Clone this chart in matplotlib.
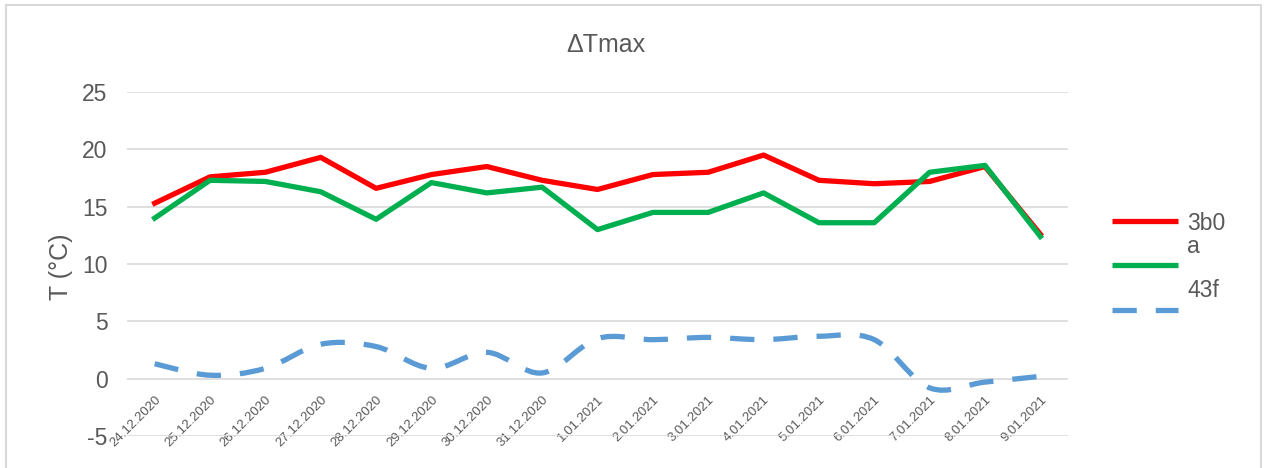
import matplotlib
matplotlib.use("Agg")
import matplotlib.pyplot as plt
from matplotlib.path import Path
from matplotlib.patches import PathPatch, Rectangle
from matplotlib.lines import Line2D

plt.rcParams['font.family'] = ['Liberation Sans', 'DejaVu Sans']

dates = ["24.12.2020", "25.12.2020", "26.12.2020", "27.12.2020", "28.12.2020",
         "29.12.2020", "30.12.2020", "31.12.2020", "1.01.2021", "2.01.2021",
         "3.01.2021", "4.01.2021", "5.01.2021", "6.01.2021", "7.01.2021",
         "8.01.2021", "9.01.2021"]
series_names = ["3b0", "a", "43f"]
s_3b0 = [15.3, 17.6, 18.0, 19.3, 16.6, 17.8, 18.5, 17.3, 16.5, 17.8, 18.0, 19.5,
         17.3, 17.0, 17.2, 18.5, 12.6]
s_a = [14.0, 17.3, 17.2, 16.3, 13.9, 17.1, 16.2, 16.7, 13.0, 14.5, 14.5, 16.2,
       13.6, 13.6, 18.0, 18.6, 12.4]
s_43f = [1.3, 0.3, 0.9, 3.0, 2.8, 0.9, 2.3, 0.5, 3.5, 3.4, 3.6, 3.4, 3.7, 3.4,
         -0.8, -0.3, 0.2]
yticks = [-5, 0, 5, 10, 15, 20, 25]

RED = "#FF0000"
GREEN = "#00B050"
BLUE = "#5B9BD5"
TXT = "#595959"
GRID = "#D9D9D9"

W, H = 1264, 468
fig = plt.figure(figsize=(W / 100, H / 100), dpi=100)
ax = fig.add_axes([127 / W, (H - 436) / H, (1068 - 127) / W, (436 - 92) / H])

x = list(range(len(dates)))
lw = 3.8
ax.plot(x, s_3b0, color=RED, lw=lw, solid_joinstyle='round', zorder=3)
ax.plot(x, s_a, color=GREEN, lw=lw, solid_joinstyle='round', zorder=4)


def smooth_path(xs, ys):
    pts = list(zip(xs, ys))
    n = len(pts)
    verts = [pts[0]]
    codes = [Path.MOVETO]
    for i in range(n - 1):
        p0 = pts[i - 1] if i > 0 else pts[i]
        p1 = pts[i]
        p2 = pts[i + 1]
        p3 = pts[i + 2] if i + 2 < n else pts[i + 1]
        c1 = (p1[0] + (p2[0] - p0[0]) / 6, p1[1] + (p2[1] - p0[1]) / 6)
        c2 = (p2[0] - (p3[0] - p1[0]) / 6, p2[1] - (p3[1] - p1[1]) / 6)
        verts += [c1, c2, p2]
        codes += [Path.CURVE4] * 3
    return Path(verts, codes)


dash = (0, (4.6, 3.6))
ax.add_patch(PathPatch(smooth_path(x, s_43f), fill=False, edgecolor=BLUE, lw=lw,
                       linestyle=dash, capstyle='butt', zorder=2))

ax.set_xlim(-0.5, len(dates) - 0.5)
ax.set_ylim(-5, 25)
ax.set_yticks(yticks)
ax.set_yticklabels([str(v) for v in yticks], fontsize=16.5, color=TXT)
ax.tick_params(axis='y', length=0, pad=14)
ax.grid(axis='y', color=GRID, lw=1.2)
ax.set_axisbelow(True)
for s in ax.spines.values():
    s.set_visible(False)
ax.spines['bottom'].set_position(('data', 0))
ax.set_xticks(x)
ax.set_xticklabels(dates, rotation=45, ha='right', va='top', rotation_mode='anchor',
                   fontsize=9.5, color=TXT)
ax.tick_params(axis='x', length=0, pad=11)

ax.set_ylabel("T (°C)", fontsize=18, color=TXT)
ax.yaxis.set_label_coords((73 - 127) / 941, (436 - 267) / 344)

fig.text(606 / W, (H - 52) / H, "ΔTmax", fontsize=18, color=TXT, ha='center', va='baseline')

# legend
leg_colors = [RED, GREEN, BLUE]
leg_line_y = [221, 265, 310]
leg_text_y = [230, 253, 297]
for name, c, ly, ty in zip(series_names, leg_colors, leg_line_y, leg_text_y):
    ls = dash if c == BLUE else '-'
    fig.add_artist(Line2D([1112 / W, 1178 / W], [(H - ly) / H, (H - ly) / H],
                          transform=fig.transFigure, color=c, lw=lw, linestyle=ls,
                          solid_capstyle='butt', dash_capstyle='butt'))
    fig.text(1187 / W, (H - ty) / H, name, fontsize=16.5, color=TXT, ha='left', va='baseline')

fig.add_artist(Rectangle((6 / W, -0.05), (1261 - 6) / W, 0.05 + (H - 5) / H,
                         transform=fig.transFigure, fill=False, edgecolor=GRID, lw=1.5))

fig.savefig("out.png", dpi=100, facecolor='white')
